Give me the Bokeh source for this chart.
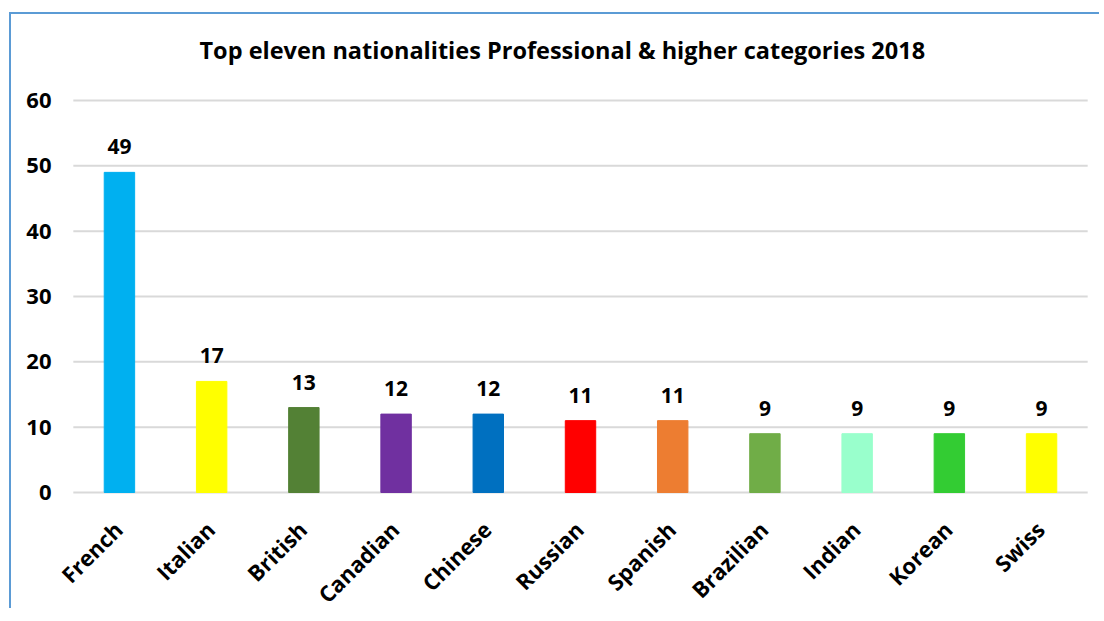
from bokeh.plotting import figure
from bokeh.models import ColumnDataSource, LabelSet, Label, Range1d, FactorRange, FixedTicker
from bokeh.core.properties import value
from bokeh.embed import file_html
from bokeh.resources import INLINE
import math

categories = ["French", "Italian", "British", "Canadian", "Chinese", "Russian",
              "Spanish", "Brazilian", "Indian", "Korean", "Swiss"]
values = [49, 17, 13, 12, 12, 11, 11, 9, 9, 9, 9]
colors = ["#00B0F0", "#FFFF00", "#538135", "#7030A0", "#0070C0", "#FF0000",
          "#ED7D31", "#70AD47", "#99FFCC", "#33CC33", "#FFFF00"]
y_ticks = [0, 10, 20, 30, 40, 50, 60]
title_text = "Top eleven nationalities Professional & higher categories 2018"

FONT = "Open Sans"

# layout (pixels)
CANVAS_H = 596
TOP_SPACE = 86      # canvas top -> top gridline
BOTTOM_SPACE = 118  # zero line -> canvas bottom
PLOT_H = CANVAS_H - TOP_SPACE - BOTTOM_SPACE
px_per_unit = PLOT_H / (y_ticks[-1] - y_ticks[0])
y_lo = y_ticks[0] - BOTTOM_SPACE / px_per_unit
y_hi = y_ticks[-1] + TOP_SPACE / px_per_unit

src = ColumnDataSource(dict(cat=categories, val=values, col=colors,
                            lab=[str(v) for v in values],
                            base=[y_ticks[0]] * len(categories)))
grid_src = ColumnDataSource(dict(y=y_ticks, x0=[0] * len(y_ticks),
                                 x1=[len(categories)] * len(y_ticks)))

xr = FactorRange(*categories, range_padding=0.15, range_padding_units="absolute")
p = figure(x_range=xr, y_range=Range1d(y_lo, y_hi),
           width=1090, height=CANVAS_H, output_backend="svg", toolbar_location=None,
           min_border_left=48, min_border_right=0, min_border_top=0,
           min_border_bottom=0)
p.styles = {"margin-left": "9px", "margin-top": "12px",
            "border-left": "2px solid #5B9BD5", "border-top": "2px solid #5B9BD5"}

# gridlines
p.segment(x0="x0", x1="x1", y0="y", y1="y", source=grid_src,
          line_color="#D9D9D9", line_width=2)

p.vbar(x="cat", top="val", width=0.33, color="col", source=src)

# value labels
p.add_layout(LabelSet(x="cat", y="val", text="lab", source=src,
                      text_align="center", text_baseline="bottom", y_offset=18,
                      text_font=value(FONT), text_font_style="bold",
                      text_font_size="21px", text_color="#000000"))

# rotated category labels
p.add_layout(LabelSet(x="cat", y="base", text="cat", source=src,
                      angle=math.pi / 4, text_align="right", text_baseline="top",
                      x_offset=-12, y_offset=-22,
                      text_font=value(FONT), text_font_style="bold",
                      text_font_size="22px", text_color="#000000"))

# title
p.add_layout(Label(x=140, y=CANVAS_H - 35, x_units="screen", y_units="screen",
                   text=title_text, text_align="left", text_baseline="middle",
                   text_font=FONT, text_font_style="bold",
                   text_font_size="23.5px", text_color="#000000"))

p.outline_line_color = None
p.xgrid.grid_line_color = None
p.ygrid.grid_line_color = None
p.yaxis.ticker = FixedTicker(ticks=y_ticks)
p.yaxis.axis_line_color = None
p.yaxis.major_tick_line_color = None
p.yaxis.minor_tick_line_color = None
p.yaxis.major_tick_out = 0
p.yaxis.major_label_standoff = 8
p.yaxis.major_label_text_font = FONT
p.yaxis.major_label_text_font_style = "bold"
p.yaxis.major_label_text_font_size = "22px"
p.yaxis.major_label_text_color = "#000000"

p.xaxis.visible = False

open("out.html", "w").write(file_html(p, INLINE))
